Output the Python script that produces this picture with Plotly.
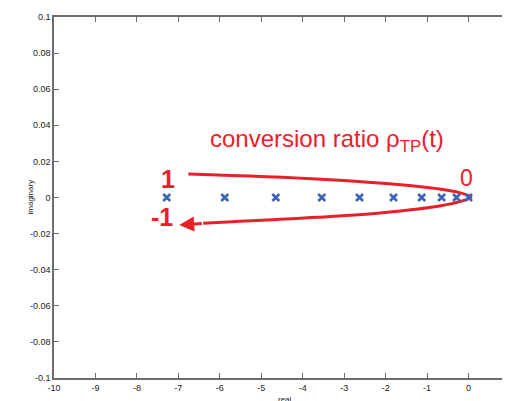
import plotly.graph_objects as go

# pole locations (real, imaginary)
pole_real = [-7.28, -5.88, -4.65, -3.54, -2.63, -1.81, -1.13, -0.65, -0.29, 0.0]
pole_imag = [0, 0, 0, 0, 0, 0, 0, 0, 0, 0]

# red annotation curve (data coords)
curve_x = [-6.76, -3.67, -2.07, -0.70, -0.22, 0.06, -0.22, -0.70, -2.07, -3.67, -6.4]
curve_y = [0.0130, 0.0103, 0.0079, 0.0047, 0.0027, 0.0002, -0.0023, -0.0047, -0.0084, -0.0110, -0.0143]
arrow_tip = (-6.98, -0.0152)

x_ticks = list(range(-10, 2))
x_ticktext = ["-10", "-9", "-8", "-7", "-6", "-5", "-4", "-3", "-2", "-1", "0", "1"]
y_ticks = [0.1, 0.08, 0.06, 0.04, 0.02, 0, -0.02, -0.04, -0.06, -0.08, -0.1]
y_ticktext = ["0.1", "0.08", "0.06", "0.04", "0.02", "0", "-0.02", "-0.04", "-0.06", "-0.08", "-0.1"]

RED = "#e8202a"
BLUE = "#3d63b8"
AXIS = "#6e6e6e"
FONT = "Arial, Liberation Sans"

fig = go.Figure()
fig.add_trace(go.Scatter(x=curve_x, y=curve_y, mode="lines",
                         line=dict(color=RED, width=3, shape="spline", smoothing=1.0),
                         hoverinfo="skip", showlegend=False))
fig.add_trace(go.Scatter(x=pole_real, y=pole_imag, mode="markers",
                         marker=dict(symbol="x-thin", size=7, line=dict(color=BLUE, width=2.6)),
                         showlegend=False))

fig.add_annotation(x=arrow_tip[0], y=arrow_tip[1], ax=curve_x[-1], ay=curve_y[-1],
                   xref="x", yref="y", axref="x", ayref="y", text="", showarrow=True,
                   arrowhead=2, arrowsize=1.0, arrowwidth=3, arrowcolor=RED)

fig.add_annotation(x=-3.42, y=0.0318, xref="x", yref="y", showarrow=False,
                   text="conversion ratio ρ<sub>TP</sub>(t)",
                   font=dict(family=FONT, size=24, color=RED))
fig.add_annotation(x=-7.26, y=0.0104, xref="x", yref="y", showarrow=False, text="<b>1</b>",
                   font=dict(family=FONT, size=25, color=RED))
fig.add_annotation(x=-0.04, y=0.0108, xref="x", yref="y", showarrow=False, text="0",
                   font=dict(family=FONT, size=23, color=RED))
fig.add_annotation(x=-7.39, y=-0.0108, xref="x", yref="y", showarrow=False, text="<b>-1</b>",
                   font=dict(family=FONT, size=25, color=RED))

# axis titles placed as paper annotations
fig.add_annotation(x=-24/456, y=0.5, xref="paper", yref="paper", showarrow=False,
                   text="imaginary", textangle=-90, xanchor="center",
                   font=dict(family=FONT, size=8, color="#222"))
fig.add_annotation(x=(285-54)/456, y=0, yshift=-15, xref="paper", yref="paper", showarrow=False,
                   text="real", yanchor="top",
                   font=dict(family=FONT, size=8, color="#222"))

# the page body adds an 8px offset; figure is sized to fill the 510x401 window
fig.update_layout(
    width=502, height=393,
    margin=dict(l=46, r=0, t=9, b=23, autoexpand=False),
    paper_bgcolor="white", plot_bgcolor="white",
    xaxis=dict(range=[-10, 1], tickvals=x_ticks, ticktext=x_ticktext,
               showgrid=False, zeroline=False, showline=True, linecolor=AXIS, linewidth=1.5,
               mirror="ticks", ticks="inside", ticklen=5, tickcolor=AXIS, tickwidth=1,
               tickfont=dict(family=FONT, size=9, color="#222")),
    yaxis=dict(range=[-0.1, 0.1], tickvals=y_ticks, ticktext=y_ticktext,
               showgrid=False, zeroline=False, showline=True, linecolor=AXIS, linewidth=1.5,
               mirror="ticks", ticks="inside", ticklen=5, tickcolor=AXIS, tickwidth=1,
               tickfont=dict(family=FONT, size=9, color="#222")),
)

fig.write_html("out.html")
